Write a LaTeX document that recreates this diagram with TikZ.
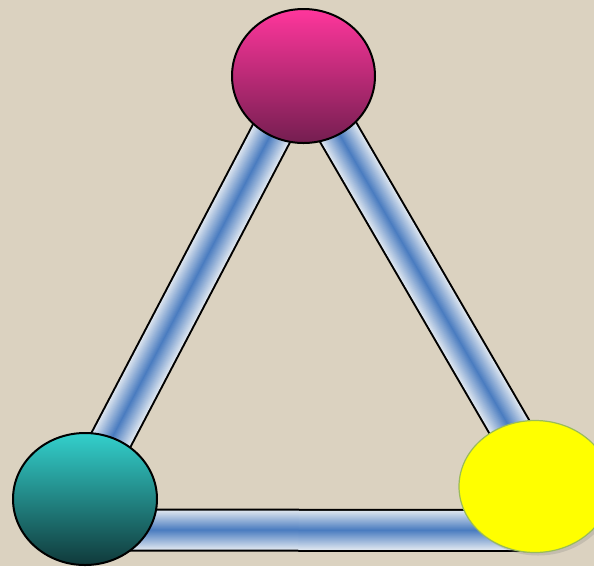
\documentclass[tikz,border=0pt]{standalone}
\usepackage{xcolor}
\usepackage{tikz}
\usetikzlibrary{shapes.geometric,shadows}
\definecolor{trbg}{HTML}{DBD2C0}
\definecolor{trpinktop}{HTML}{FF369C}
\definecolor{trpinkmid}{HTML}{C4287A}
\definecolor{trpinkbot}{HTML}{741E50}
\definecolor{trtealtop}{HTML}{33D0CC}
\definecolor{trtealmid}{HTML}{21908D}
\definecolor{trtealbot}{HTML}{10393A}
\definecolor{tryellow}{HTML}{FFFF00}
\definecolor{trolive}{HTML}{9BBB59}
\definecolor{tubeblue}{HTML}{4A7CC0}
\definecolor{tubelight}{HTML}{E2E9F1}
\pgfdeclarelayer{paper}
\pgfdeclarelayer{tubes}
\pgfsetlayers{paper,tubes,main}
\tikzset{
  ball/.style={ellipse,draw=black,line width=2pt,inner sep=0pt},
  tubeedge/.style={draw=black,line width=43pt}
}
% tube between two points: black rim, then shaded core
\newcommand\trtube[2]{%
  \draw[tubeedge] #1 -- #2;
  \foreach \i in {0,...,19}{%
    \pgfmathsetmacro\trw{39-2*\i}
    \pgfmathtruncatemacro\trp{5*\i+5}
    \draw[line width=\trw pt,tubeblue!\trp!tubelight] #1 -- #2;
  }%
}

\begin{document}
\begin{tikzpicture}[x=1pt,y=-1pt]
  \useasboundingbox (0,0) rectangle (594,566);
  \begin{pgfonlayer}{paper}
    \fill[trbg] (0,0) rectangle (594,566);
  \end{pgfonlayer}
  % the three balls
  \node[ball,minimum width=143pt,minimum height=134pt,
        top color=trpinktop,middle color=trpinkmid,bottom color=trpinkbot] (top) at (303.5,76) {};
  \node[ball,minimum width=144pt,minimum height=132pt,
        top color=trtealtop,middle color=trtealmid,bottom color=trtealbot] (teal) at (85,499) {};
  \node[ellipse,draw=trolive,line width=1.2pt,fill=tryellow,inner sep=0pt,
        minimum width=152pt,minimum height=132pt,
        drop shadow={opacity=0.25,shadow xshift=3pt,shadow yshift=-3pt}] (yel) at (535,486.5) {};
  % tubes under the balls
  \begin{pgfonlayer}{tubes}
    \trtube{([xshift=-2pt]top.center)}{([xshift=-5pt]teal.center)}
    \trtube{([xshift=2pt]top.center)}{([xshift=9pt]yel.center)}
    \trtube{([yshift=-31pt]teal.center)}{([yshift=-44pt]yel.center)}
  \end{pgfonlayer}
\end{tikzpicture}
\end{document}
